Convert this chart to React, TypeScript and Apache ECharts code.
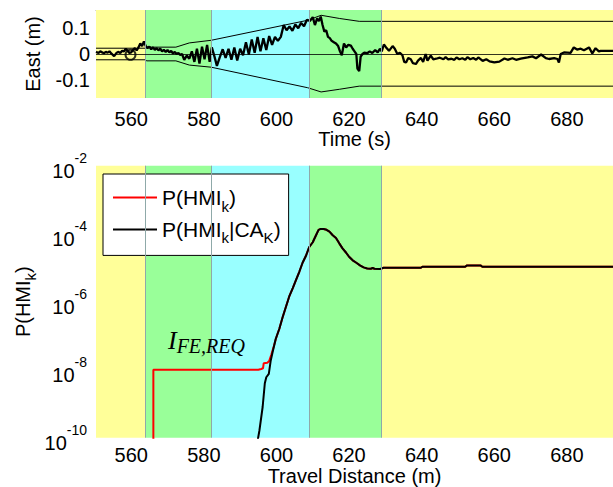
import React, { useEffect, useRef } from 'react';
import * as echarts from 'echarts';

const X_MIN = 550.3;
const X_MAX = 692.7;
const xTicks = [560, 580, 600, 620, 640, 660, 680];
const eastTicks = [-0.1, 0, 0.1];
const EAST_MIN = -0.167;
const EAST_MAX = 0.167;

// coloured phase bands (start, end)
const bandStarts = [X_MIN, 564, 582, 609, 629];
const bandEnds = [564, 582, 609, 629, X_MAX];
const bandColors = ['#FFFF99', '#99FF99', '#99FFFF', '#99FF99', '#FFFF99'];
const bandEdges = [564, 582, 609, 629];

// East error trace
const eastTime = [
  550.3, 551, 551.5, 552, 552.5, 553, 553.5, 554, 554.5, 555, 555.3, 556, 556.5, 557, 557.5, 558, 558.5, 559, 559.5, 560,
  560.5, 561, 561.5, 562, 562.5, 563, 563.5, 564, 564.5, 565, 565.5, 566, 566.5, 567, 567.5, 568, 568.5, 569, 569.5, 570,
  570.5, 571, 571.5, 572, 572.5, 573, 573.5, 574, 574.6, 575.3, 576, 576.7, 577.4, 578.1, 578.8, 579.5, 580.2, 580.9, 581.6, 582.2,
  582.9, 583.6, 584.4, 585.2, 586, 586.8, 587.6, 588.4, 589.2, 590, 590.8, 591.6, 592.4, 593.2, 594, 594.8, 595.6, 596.4, 597.2, 598,
  598.8, 599.6, 600.4, 601.2, 602, 602.8, 603.6, 604.4, 605.2, 606, 606.8, 607.6, 608.4, 609.2, 610, 610.6, 611.2, 611.7, 612.2, 612.7,
  613.2, 613.7, 614.2, 614.7, 615.2, 615.8, 616.4, 617, 617.5, 618, 618.6, 619.2, 619.8, 620.5, 621, 621.5, 622, 622.3, 622.8, 623.2,
  623.7, 624.2, 625, 625.7, 626.4, 627.2, 627.9, 628.5, 629, 629.6, 630.2, 631, 632, 632.6, 633.3, 634, 634.7, 635.2, 635.7, 636.3,
  637, 637.6, 638.4, 639, 639.8, 640.4, 641.1, 641.6, 642.5, 643.2, 644, 645, 646, 646.6, 647.3, 648.2, 649, 649.6, 650.4, 651.2,
  652, 652.6, 653.4, 654.2, 655, 655.6, 656.8, 657.8, 658.7, 660, 661.4, 662.8, 663.7, 665, 666, 667.3, 669.2, 670.5, 671.5, 672.9,
  674.2, 675.1, 676.5, 677.4, 677.8, 678.3, 679.2, 681, 681.9, 682.8, 683.8, 684.7, 686.1, 687, 687.9, 688.8, 689.3, 692.7,
];
const eastValue = [
  0.008, 0.004, 0.01, 0.006, 0.003, 0.008, 0.005, 0.01, 0.002, -0.004, -0.008, 0.005, 0.008, 0.004, 0.012, 0.01, 0.02, 0.012, 0.004, 0.006,
  0.016, 0.022, 0.014, 0.025, 0.04, 0.03, 0.048, 0.03, 0.022, 0.028, 0.018, 0.025, 0.016, 0.022, 0.014, 0.02, 0.01, 0.016, 0.008, 0.015,
  0.006, 0.012, 0.002, 0.008, 0.0, 0.004, -0.004, 0.0, -0.022, -0.006, -0.018, 0.01, -0.03, 0.02, -0.036, 0.028, -0.02, 0.034, -0.03, 0.025,
  -0.008, -0.045, -0.012, 0.018, -0.015, 0.02, -0.022, 0.025, -0.025, 0.02, -0.005, 0.045, -0.002, 0.055, 0.005, 0.065, 0.01, 0.06, 0.015, 0.068,
  0.035, 0.065, 0.05, 0.065, 0.11, 0.09, 0.105, 0.088, 0.112, 0.098, 0.118, 0.105, 0.13, 0.125, 0.14, 0.11, 0.135, 0.125, 0.142, 0.11,
  0.085, 0.09, 0.065, 0.06, 0.05, 0.045, 0.04, 0.03, 0.01, -0.005, 0.04, 0.025, 0.035, 0.032, 0.02, 0.01, 0.0, -0.055, -0.065, -0.01,
  0.0, 0.005, 0.003, 0.01, 0.004, 0.015, 0.006, 0.02, 0.01, 0.036, 0.025, 0.012, 0.03, 0.02, 0.0, 0.005, -0.005, -0.03, -0.032, -0.015,
  -0.02, -0.035, -0.038, -0.025, -0.015, -0.03, 0.0, -0.025, -0.006, -0.02, -0.018, -0.014, -0.02, -0.012, -0.02, -0.018, -0.022, -0.013, -0.02, -0.016,
  -0.022, -0.012, -0.02, -0.015, -0.022, -0.013, -0.026, -0.02, -0.028, -0.032, -0.029, -0.017, -0.022, -0.016, -0.022, -0.018, -0.013, -0.009, -0.016, -0.002,
  -0.016, -0.019, -0.016, -0.019, -0.032, 0.0, 0.006, 0.004, 0.025, 0.017, 0.02, 0.014, 0.025, 0.002, 0.022, 0.01, 0.012, 0.012,
];

// protection level bounds
const boundTime = [X_MIN, 564, 564.2, 572.3, 576, 582, 608.6, 612.3, 617.3, 622.8, X_MAX];
const upperBound = [0.022, 0.022, 0.026, 0.026, 0.042, 0.052, 0.128, 0.147, 0.135, 0.124, 0.124];
const lowerBound = [-0.022, -0.022, -0.026, -0.026, -0.042, -0.05, -0.128, -0.144, -0.134, -0.122, -0.122];

const circleTime = [559.8];
const circleValue = [-0.003];

// P(HMI_k | CA_K)
const distBlack = [
  594.6, 595.3, 596.2, 596.8, 597.2, 597.9, 598.4, 599.0, 599.8, 600.8, 601.7, 602.6, 603.5, 604.5, 605.4, 606.3, 607.2, 608.1,
  609.0, 610.0, 610.9, 611.6, 612.2, 613.0, 613.8, 614.6, 615.5, 616.4, 617.3, 618.2, 619.2, 620.0, 621.0, 622.0, 623.0, 624.0,
  625.0, 626.0, 626.5, 627.0, 628.5, 629.5, 639.8, 640.2, 652.0, 652.5, 656.2, 656.7, 692.7,
];
const pBlack = [
  6e-11, 1.6e-10, 8e-10, 4e-9, 6e-9, 7.5e-9, 1.8e-8, 3.5e-8, 8e-8, 1.6e-7, 3.5e-7, 7e-7, 1.4e-6, 2.5e-6, 4.4e-6, 7.6e-6, 1.4e-5, 2.2e-5,
  4e-5, 5.6e-5, 9e-5, 1.3e-4, 1.38e-4, 1.38e-4, 1.3e-4, 1.15e-4, 9e-5, 7.5e-5, 5.2e-5, 3.7e-5, 2.75e-5, 2.1e-5, 1.65e-5, 1.4e-5, 1.17e-5, 1.02e-5,
  9.5e-6, 9.3e-6, 9.8e-6, 9.3e-6, 9.1e-6, 1.0e-5, 1.0e-5, 1.07e-5, 1.07e-5, 1.17e-5, 1.17e-5, 1.07e-5, 1.07e-5,
];
// P(HMI_k) before it joins the conditional curve
const distRedHead = [566.1, 566.1, 595.0, 595.8, 596.3, 596.5, 597.5, 598.0, 598.6, 599.3, 599.9];
const pRedHead = [1e-12, 1.0e-8, 1.0e-8, 1.05e-8, 1.1e-8, 1.55e-8, 1.6e-8, 1.8e-8, 2.8e-8, 5e-8, 8.5e-8];
const RED_JOIN = 600.8;

const NAME_RED = 'P(HMI_k)';
const NAME_BLACK = 'P(HMI_k|CA_K)';

const FONT = '"Liberation Sans", Arial, sans-serif';
const SERIF = '"Liberation Serif", "Times New Roman", serif';

const pairs = (xs: number[], ys: number[]) => xs.map((x, i) => [x, ys[i]]);

export default function App() {
  const ref = useRef<HTMLDivElement>(null);
  useEffect(() => {
    if (!ref.current) return;
    const chart = echarts.init(ref.current, undefined, { renderer: 'svg' });

    const blackData = pairs(distBlack, pBlack);
    const redData = pairs(distRedHead, pRedHead).concat(blackData.filter((d) => d[0] >= RED_JOIN));

    const bandArea = bandStarts.map((s, i) => [
      { xAxis: s, itemStyle: { color: bandColors[i] } },
      { xAxis: bandEnds[i] },
    ]);
    const edgeLines = bandEdges.map((e) => ({ xAxis: e }));

    const mainRich = {
      m: { fontSize: 21, color: '#000', fontFamily: FONT, lineHeight: 32 },
      s: { fontSize: 15, color: '#000', fontFamily: FONT, lineHeight: 12, verticalAlign: 'bottom' },
    };
    const legendText: Record<string, string> = {
      [NAME_RED]: '{m|P(HMI}{s|k}{m|)}',
      [NAME_BLACK]: '{m|P(HMI}{s|k}{m||CA}{s|K}{m|)}',
    };

    const xAxisCommon = (grid: number, name: string, nameGap: number, margin: number) => ({
      gridIndex: grid,
      type: 'value',
      min: X_MIN,
      max: X_MAX,
      name,
      nameLocation: 'middle',
      nameGap,
      nameMoveOverlap: false,
      nameTextStyle: { fontSize: 20, color: '#000', fontFamily: FONT },
      axisLine: { show: false },
      axisTick: { show: false },
      splitLine: { show: false },
      axisLabel: { customValues: xTicks, fontSize: 20, color: '#000', fontFamily: FONT, margin },
    });

    const bandSeries = (grid: number) => ({
      type: 'line',
      xAxisIndex: grid,
      yAxisIndex: grid,
      data: [],
      silent: true,
      z: 1,
      markArea: { silent: true, data: bandArea },
      markLine: {
        silent: true,
        symbol: ['none', 'none'],
        label: { show: false },
        lineStyle: { color: '#8fa9a9', width: 1, type: 'solid' },
        data: edgeLines,
      },
    });

    const option: any = {
      animation: false,
      textStyle: { fontFamily: FONT },
      grid: [
        { left: 96, top: 10, width: 517, height: 88, outerBoundsMode: 'none', containLabel: false },
        { left: 96, top: 165.7, width: 517, height: 272, outerBoundsMode: 'none', containLabel: false },
      ],
      xAxis: [
        xAxisCommon(0, 'Time (s)', 31, 11),
        xAxisCommon(1, 'Travel Distance (m)', 28, 7),
        {
          gridIndex: 0,
          type: 'value',
          position: 'top',
          min: X_MIN,
          max: X_MAX,
          axisLine: { show: true, lineStyle: { color: '#999', width: 1 } },
          axisTick: { show: false },
          axisLabel: { show: false },
          splitLine: { show: false },
        },
      ],
      yAxis: [
        {
          gridIndex: 0,
          type: 'value',
          min: EAST_MIN,
          max: EAST_MAX,
          name: 'East (m)',
          nameLocation: 'middle',
          nameRotate: 90,
          nameGap: 53,
          nameMoveOverlap: false,
          nameTextStyle: { fontSize: 20, color: '#000', fontFamily: FONT },
          axisLine: { show: false },
          axisTick: { show: false },
          splitLine: { show: false },
          axisLabel: {
            customValues: eastTicks,
            fontSize: 20,
            color: '#000',
            fontFamily: FONT,
            margin: 6,
            formatter: (v: number) => String(Math.round(v * 10) / 10),
          },
        },
        {
          gridIndex: 1,
          type: 'log',
          logBase: 10,
          min: 1e-10,
          max: 1e-2,
          name: '{m|P(HMI}{s|k}{m|)}',
          nameLocation: 'middle',
          nameRotate: 90,
          nameGap: 58,
          nameMoveOverlap: false,
          nameTextStyle: {
            rich: {
              m: { fontSize: 20, color: '#000', fontFamily: FONT, lineHeight: 30 },
              s: { fontSize: 15, color: '#000', fontFamily: FONT, lineHeight: 12, verticalAlign: 'bottom' },
            },
          },
          axisLine: { show: false },
          axisTick: { show: false },
          splitLine: { show: false },
          axisLabel: {
            margin: 9,
            formatter: (v: number) => {
              const e = Math.round(Math.log10(v));
              return e % 2 === 0 ? `{b|10}{e|${e}}` : '';
            },
            rich: {
              b: { fontSize: 20, color: '#000', fontFamily: FONT, lineHeight: 30, verticalAlign: 'bottom' },
              e: { fontSize: 14, color: '#000', fontFamily: FONT, lineHeight: 14, verticalAlign: 'top' },
            },
          },
        },
      ],
      legend: {
        orient: 'vertical',
        left: 103,
        top: 174,
        padding: [13, 8, 10, 10],
        itemGap: 5.4,
        itemWidth: 44,
        itemHeight: 2,
        icon: 'rect',
        backgroundColor: '#fff',
        borderColor: '#000',
        borderWidth: 1,
        borderRadius: 0,
        data: [NAME_RED, NAME_BLACK],
        formatter: (name: string) => legendText[name],
        textStyle: { rich: mainRich },
      },
      graphic: [
        {
          type: 'text',
          x: 168,
          y: 324,
          style: {
            text: '{i|I}{s|FE,REQ}',
            rich: {
              i: { fontSize: 26, fontFamily: SERIF, fontStyle: 'italic', fill: '#000', lineHeight: 32 },
              s: { fontSize: 20, fontFamily: SERIF, fontStyle: 'italic', fill: '#000', lineHeight: 16, verticalAlign: 'bottom' },
            },
          },
          z: 100,
        },
      ],
      series: [
        bandSeries(0),
        bandSeries(1),
        {
          type: 'line',
          name: 'upper',
          xAxisIndex: 0,
          yAxisIndex: 0,
          data: pairs(boundTime, upperBound),
          symbol: 'none',
          lineStyle: { color: '#000', width: 1 },
          z: 3,
          markLine: {
            silent: true,
            symbol: ['none', 'none'],
            label: { show: false },
            lineStyle: { color: '#000', width: 0.8, type: 'solid' },
            data: [{ yAxis: 0 }],
          },
        },
        {
          type: 'line',
          name: 'lower',
          xAxisIndex: 0,
          yAxisIndex: 0,
          data: pairs(boundTime, lowerBound),
          symbol: 'none',
          lineStyle: { color: '#000', width: 1 },
          z: 3,
        },
        {
          type: 'line',
          name: 'East',
          xAxisIndex: 0,
          yAxisIndex: 0,
          data: pairs(eastTime, eastValue),
          symbol: 'none',
          lineStyle: { color: '#000', width: 2.3 },
          z: 4,
        },
        {
          type: 'scatter',
          name: 'start',
          xAxisIndex: 0,
          yAxisIndex: 0,
          data: pairs(circleTime, circleValue),
          symbol: 'circle',
          symbolSize: 10,
          itemStyle: { color: 'rgba(0,0,0,0)', borderColor: '#000', borderWidth: 2 },
          z: 5,
        },
        {
          type: 'line',
          name: NAME_RED,
          xAxisIndex: 1,
          yAxisIndex: 1,
          data: redData,
          symbol: 'none',
          color: '#ff0000',
          lineStyle: { color: '#ff0000', width: 2 },
          z: 3,
        },
        {
          type: 'line',
          name: NAME_BLACK,
          xAxisIndex: 1,
          yAxisIndex: 1,
          data: blackData,
          symbol: 'none',
          color: '#000',
          lineStyle: { color: '#000', width: 2 },
          z: 4,
        },
      ],
    };
    chart.setOption(option);
    return () => chart.dispose();
  }, []);
  return <div ref={ref} style={{ position: 'absolute', left: 0, top: 0, width: 613, height: 487 }} />;
}
